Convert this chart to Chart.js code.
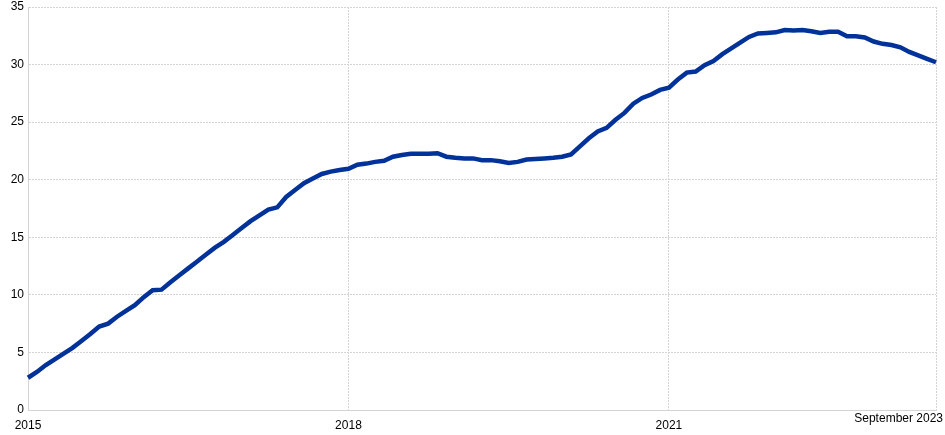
<!DOCTYPE html>
<html>
<head>
<meta charset="utf-8">
<script src="https://cdn.jsdelivr.net/npm/chart.js@4.4.0/dist/chart.umd.min.js"></script>
<style>
    html, body { margin: 0; padding: 0; background: #fff; }
    #wrap { width: 945px; height: 435px; }
</style>
</head>
<body>
<div id="wrap"><canvas id="chart"></canvas></div>
<script>
// Dữ liệu: tháng 1/2015 -> tháng 7/2023
var yearLabels = ['2015', '2018', '2021']
var lastLabel = 'September 2023'
var yValues = [
    2.8, 3.3, 3.9, 4.4, 4.9, 5.4, 6.0, 6.6, 7.25, 7.5, 8.1, 8.6,
    9.1, 9.8, 10.4, 10.45, 11.1, 11.7, 12.3, 12.9, 13.5, 14.1, 14.6, 15.2,
    15.8, 16.4, 16.9, 17.4, 17.6, 18.5, 19.1, 19.7, 20.1, 20.5, 20.7, 20.85,
    20.95, 21.3, 21.4, 21.55, 21.65, 22.0, 22.15, 22.25, 22.25, 22.25, 22.3, 22.0,
    21.9, 21.85, 21.85, 21.7, 21.7, 21.6, 21.45, 21.55, 21.75, 21.8, 21.85, 21.9,
    22.0, 22.2, 22.9, 23.6, 24.2, 24.5, 25.2, 25.8, 26.6, 27.1, 27.4, 27.8,
    28.0, 28.7, 29.3, 29.4, 29.95, 30.3, 30.9, 31.4, 31.9, 32.4, 32.7, 32.75,
    32.8, 33.0, 32.95, 33.0, 32.9, 32.75, 32.85, 32.85, 32.45, 32.45, 32.35, 32.0,
    31.8, 31.7, 31.5, 31.1, 30.8, 30.5, 30.2
]

// Nhãn trục x: mỗi tháng một nhãn, chỉ hiện đầu năm 2015/2018/2021
var xLabels = []
for (var i = 0; i < yValues.length; i++) {
    var y = 2015 + Math.floor(i / 12)
    xLabels.push((i % 12 === 0) ? String(y) : y + '-' + (i % 12 + 1))
}

var endLabelPlugin = {
    id: 'endLabel',
    afterDraw: function (chart) {
        var ctx = chart.ctx
        ctx.save()
        ctx.font = '12px "Liberation Sans", Arial, sans-serif'
        ctx.fillStyle = '#000'
        ctx.textAlign = 'right'
        ctx.textBaseline = 'middle'
        ctx.fillText(lastLabel, chart.width - 2, chart.scales.y.bottom + 9)
        ctx.restore()
    }
}

var chart = new Chart(document.getElementById('chart').getContext('2d'), {
    type: 'line',
    data: {
        labels: xLabels,
        datasets: [{
            data: yValues,
            borderColor: '#003299',
            backgroundColor: '#003299',
            borderWidth: 4.5,
            pointRadius: 0,
            tension: 0
        }]
    },
    options: {
        responsive: true,
        maintainAspectRatio: false,
        animation: false,
        layout: { padding: { top: 7, right: 9, left: 0, bottom: 0 } },
        plugins: { legend: { display: false }, tooltip: { enabled: false } },
        scales: {
            x: {
                grid: {
                    color: '#d4d4d4',
                    tickLength: 0,
                    drawTicks: false
                },
                border: { display: true, color: '#d4d4d4', dash: [2, 1] },
                ticks: {
                    autoSkip: false,
                    maxRotation: 0,
                    padding: 8,
                    color: '#000',
                    font: { family: '"Liberation Sans", Arial, sans-serif', size: 12 },
                    callback: function (v, idx) {
                        if (idx === yValues.length - 1) return ''
                        var l = xLabels[idx]
                        return yearLabels.indexOf(l) >= 0 ? l : null
                    }
                },
                afterFit: function (s) { s.height = 25 }
            },
            y: {
                min: 0,
                max: 35,
                grid: { color: '#d4d4d4', drawTicks: false },
                border: { display: true, color: '#d4d4d4', dash: [2, 1] },
                ticks: {
                    stepSize: 5,
                    padding: 4,
                    color: '#000',
                    font: { family: '"Liberation Sans", Arial, sans-serif', size: 12 }
                },
                afterFit: function (s) { s.width = 28; s.paddingTop = 0 }
            }
        }
    },
    plugins: [endLabelPlugin]
})
</script>
</body>
</html>
